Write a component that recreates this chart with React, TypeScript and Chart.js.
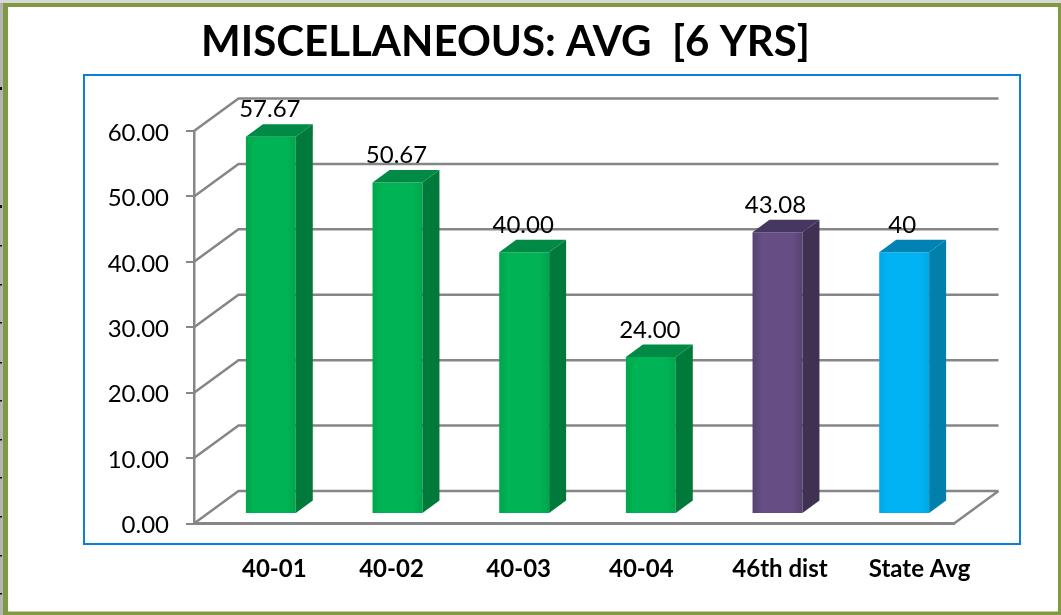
import React, { useEffect, useRef } from "react";
import { Chart, registerables } from "chart.js";

Chart.register(...registerables);

const categories = ["40-01", "40-02", "40-03", "40-04", "46th dist", "State Avg"];
const values = [57.67, 50.67, 40.0, 24.0, 43.08, 40];
const valueLabels = ["57.67", "50.67", "40.00", "24.00", "43.08", "40"];
const frontColors = ["#00B455", "#00B455", "#00B455", "#00B455", "#664E84", "#00B4F4"];
const frontEdges = ["#00A64C", "#00A64C", "#00A64C", "#00A64C", "#574270", "#00A8E6"];
const sideColors = ["#007A3A", "#007A3A", "#007A3A", "#007A3A", "#3F3151", "#0080AB"];
const topColors = ["#008A45", "#008A45", "#008A45", "#008A45", "#463760", "#0083B4"];
const xLabelNudges = [17, 7.5, 8, 4, 16, 29];
const valueLabelNudges = [-1, -1, -1, -1, -2, -2];
const edgeMarks = [89, 207, 246, 285, 323, 363, 401, 440, 478, 517, 556, 594];
const titleText = "MISCELLANEOUS: AVG  [6 YRS]";

const FONT = "Lato, 'Open Sans', sans-serif";
const GRID = "#868686";
const WALL = { dx: 44.5, dy: -32.5 };
const BAR_SHIFT = { dx: 13.5, dy: -9.5 };
const BAR_DEPTH = { dx: 17, dy: -12.5 };
const BAR_FRACTION = 0.394;

const chrome = {
  id: "chrome",
  afterLayout(chart: any) {
    chart.titleBlock.left = 0;
    chart.titleBlock.right = 1011;
  },
  beforeDraw(chart: any) {
    const { ctx, width, height } = chart;
    ctx.save();
    ctx.fillStyle = "#ffffff";
    ctx.fillRect(0, 0, width, height);
    ctx.fillStyle = "#B4B4B4";
    ctx.fillRect(0, 0, 3, height);
    ctx.fillStyle = "#D8D8D8";
    ctx.fillRect(0, 0, width, 3);
    ctx.fillStyle = "#111111";
    edgeMarks.forEach((m, i) => ctx.fillRect(0, m - (i < 2 ? 2 : 1), 2, i < 2 ? 3 : 1.5));
    ctx.fillStyle = "#7F9A41";
    ctx.fillRect(3, 3, 5, height - 3);
    ctx.fillRect(3, 3, width - 3, 4);
    ctx.fillRect(1058, 3, 3, height - 3);
    ctx.fillRect(3, 611.5, width - 3, 3.5);
    ctx.strokeStyle = "#0A80D8";
    ctx.lineWidth = 2;
    ctx.strokeRect(84, 75, 936, 469);
    const y = chart.scales.y;
    const x0 = chart.chartArea.left;
    const x1 = chart.chartArea.right;
    ctx.strokeStyle = GRID;
    ctx.lineWidth = 2.5;
    y.ticks.forEach((t: any) => {
      const py = y.getPixelForValue(t.value);
      ctx.beginPath();
      ctx.moveTo(x0, py);
      ctx.lineTo(x0 + WALL.dx, py + WALL.dy);
      ctx.lineTo(x1 + WALL.dx, py + WALL.dy);
      ctx.stroke();
    });
    const py0 = y.getPixelForValue(0);
    ctx.beginPath();
    ctx.moveTo(x1, py0);
    ctx.lineTo(x1 + WALL.dx, py0 + WALL.dy);
    ctx.stroke();
    ctx.restore();

    chart.scales.x.getLabelItems().forEach((it: any, i: number) => {
      if (!it.__moved) {
        it.options.translation[0] += xLabelNudges[i];
        it.__moved = true;
      }
    });
    chart.scales.y.getLabelItems().forEach((it: any) => {
      if (!it.__moved) {
        it.options.translation[1] += 2;
        it.__moved = true;
      }
    });
  },
  beforeDatasetsDraw(chart: any) {
    chart.ctx.save();
    chart.ctx.translate(BAR_SHIFT.dx, BAR_SHIFT.dy);
  },
  afterDatasetsDraw(chart: any) {
    const { ctx } = chart;
    const meta = chart.getDatasetMeta(0);
    meta.data.forEach((bar: any, i: number) => {
      const l = bar.x - bar.width / 2;
      const r = bar.x + bar.width / 2;
      const t = bar.y;
      const b = bar.base;
      ctx.fillStyle = sideColors[i];
      ctx.beginPath();
      ctx.moveTo(r, t);
      ctx.lineTo(r + BAR_DEPTH.dx, t + BAR_DEPTH.dy);
      ctx.lineTo(r + BAR_DEPTH.dx, b + BAR_DEPTH.dy);
      ctx.lineTo(r, b);
      ctx.closePath();
      ctx.fill();
      ctx.fillStyle = topColors[i];
      ctx.beginPath();
      ctx.moveTo(l, t);
      ctx.lineTo(l + BAR_DEPTH.dx, t + BAR_DEPTH.dy);
      ctx.lineTo(r + BAR_DEPTH.dx, t + BAR_DEPTH.dy);
      ctx.lineTo(r, t);
      ctx.closePath();
      ctx.fill();
      ctx.fillStyle = "#000000";
      ctx.font = `24px ${FONT}`;
      ctx.textAlign = "center";
      ctx.textBaseline = "middle";
      ctx.fillText(valueLabels[i], bar.x + valueLabelNudges[i], t - 27);
    });
    ctx.restore();
  },
};

function frontFill(context: any) {
  const i = context.dataIndex;
  const xScale = context.chart.scales.x;
  if (!xScale || !Number.isFinite(xScale.width) || xScale.width <= 0) return frontColors[i];
  const half = (xScale.width / categories.length) * BAR_FRACTION * 0.5;
  const cx = xScale.getPixelForValue(i);
  const g = context.chart.ctx.createLinearGradient(cx - half, 0, cx + half, 0);
  g.addColorStop(0, frontEdges[i]);
  g.addColorStop(0.2, frontColors[i]);
  g.addColorStop(0.8, frontColors[i]);
  g.addColorStop(1, frontEdges[i]);
  return g;
}

export default function App() {
  const ref = useRef<HTMLCanvasElement>(null);
  useEffect(() => {
    document.body.style.margin = "0";
    const chart = new Chart(ref.current as HTMLCanvasElement, {
      type: "bar",
      data: {
        labels: categories,
        datasets: [
          {
            data: values,
            backgroundColor: frontFill,
            categoryPercentage: 1,
            barPercentage: BAR_FRACTION,
            clip: false,
          } as any,
        ],
      },
      options: {
        responsive: false,
        animation: false,
        layout: { padding: { left: 0, top: 0, right: 107, bottom: 0 } },
        plugins: {
          legend: { display: false },
          tooltip: { enabled: false },
          title: {
            display: true,
            text: titleText,
            color: "#000000",
            font: { family: FONT, size: 42, weight: "bold" },
            padding: { top: 17, bottom: 63.6 },
          },
        },
        scales: {
          x: {
            grid: { display: false, drawTicks: false },
            border: { display: true, color: GRID, width: 3 },
            ticks: {
              color: "#000000",
              font: { family: FONT, size: 24, weight: "bold" },
              padding: 31,
              maxRotation: 0,
            },
            afterFit(scale: any) {
              scale.height = 91.5;
            },
          },
          y: {
            min: 0,
            max: 60,
            grid: { drawOnChartArea: false, drawTicks: true, tickLength: 8, color: GRID, lineWidth: 2 },
            border: { display: true, color: GRID, width: 2.5 },
            ticks: {
              stepSize: 10,
              color: "#000000",
              font: { family: FONT, size: 24 },
              padding: 17,
              callback: (v: any) => Number(v).toFixed(2),
            },
            afterFit(scale: any) {
              scale.width = 194;
            },
          },
        },
      },
      plugins: [chrome],
    } as any);
    return () => chart.destroy();
  }, []);
  return <canvas ref={ref} width={1061} height={615} style={{ display: "block" }} />;
}
